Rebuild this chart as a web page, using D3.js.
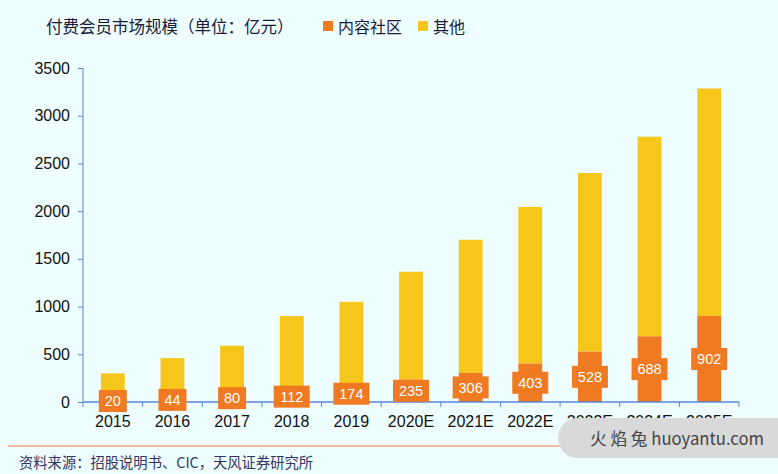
<!DOCTYPE html>
<html><head><meta charset="utf-8">
<script src="https://cdn.jsdelivr.net/npm/d3@7"></script>
<style>body{margin:0;background:#EEFEFE;}svg{display:block;}</style>
</head><body>
<svg id="c" width="778" height="474"></svg>
<script>
const categories = ["2015","2016","2017","2018","2019","2020E","2021E","2022E","2023E","2024E","2025E"];
const contentCommunity = [20,44,80,112,174,235,306,403,528,688,902];
const others = [280,416,510,788,876,1130,1394,1642,1872,2092,2383];
const yTicks = [0,500,1000,1500,2000,2500,3000,3500];
const seriesNames = ["内容社区","其他"];
const colors = ["#EF7A21","#F6C61A"];

const svg = d3.select("#c");
svg.append("rect").attr("width",778).attr("height",474).attr("fill","#EEFEFE");
const x = d3.scaleBand().domain(categories).range([83,739]).paddingInner(0.6).paddingOuter(0.3);
const xb = d3.scaleBand().domain(categories).range([83,739]);
const y = d3.scaleLinear().domain([0,3500]).range([402,68]);
const font = "'Liberation Sans', Arial, sans-serif";
const cjk = "'Noto Sans CJK SC', sans-serif";

// y axis
const ya = svg.append("g").attr("transform","translate(83,0)")
  .call(d3.axisLeft(y).tickValues(yTicks).tickSize(5).tickPadding(8).tickFormat(d3.format("d")));
ya.selectAll("path,line").attr("stroke","#5A86D8");
ya.select(".domain").attr("d","M0,68V402");
ya.selectAll("text").attr("font-family",font).attr("font-size",16).attr("fill","#111");

const data = categories.map((c,i)=>({c, a:contentCommunity[i], b:others[i]}));
// bars
svg.selectAll(".o").data(data).enter().append("rect")
  .attr("x",d=>x(d.c)).attr("width",x.bandwidth())
  .attr("y",d=>y(d.a+d.b)).attr("height",d=>y(d.a)-y(d.a+d.b)).attr("fill",colors[1]);
svg.selectAll(".c").data(data).enter().append("rect")
  .attr("x",d=>x(d.c)).attr("width",x.bandwidth())
  .attr("y",d=>y(d.a)).attr("height",d=>y(0)-y(d.a)).attr("fill",colors[0]);

// x axis
const xa = svg.append("g").attr("transform","translate(0,402)");
xa.append("line").attr("x1",83).attr("x2",739).attr("stroke","#5A86D8").attr("stroke-width",1.5);
xa.selectAll(".t").data(categories.concat(["end"])).enter().append("line")
  .attr("x1",(d,i)=>83+i*xb.bandwidth()).attr("x2",(d,i)=>83+i*xb.bandwidth())
  .attr("y1",0).attr("y2",5).attr("stroke","#5A86D8");
xa.selectAll(".l").data(categories).enter().append("text")
  .attr("x",d=>xb(d)+xb.bandwidth()/2).attr("y",25).attr("text-anchor","middle")
  .attr("font-family",font).attr("font-size",16).attr("fill","#111").text(d=>d);

// labels
const lg = svg.selectAll(".lb").data(data).enter().append("g")
  .attr("transform",d=>`translate(${x(d.c)+x.bandwidth()/2},${(y(0)+y(d.a))/2})`);
lg.append("rect").attr("x",d=>-(String(d.a).length*8+12)/2).attr("width",d=>String(d.a).length*8+12)
  .attr("y",-11).attr("height",22).attr("fill",colors[0]);
lg.append("text").attr("text-anchor","middle").attr("dy","0.36em")
  .attr("font-family",font).attr("font-size",14.5).attr("fill","#fff").text(d=>d.a);

// title & legend
svg.append("text").attr("x",46).attr("y",33).attr("font-family",cjk)
  .attr("font-size",16.5).attr("fill","#1a1a3a").text("付费会员市场规模（单位：亿元）");
const leg = [[323,seriesNames[0],colors[0]],[418,seriesNames[1],colors[1]]];
leg.forEach(([lx,t,col])=>{
  svg.append("rect").attr("x",lx).attr("y",21).attr("width",10).attr("height",10).attr("fill",col);
  svg.append("text").attr("x",lx+15).attr("y",33).attr("font-family",cjk)
    .attr("font-size",16).attr("fill","#1a1a3a").text(t);
});

// bottom rule & source
svg.append("line").attr("x1",8).attr("x2",770).attr("y1",446).attr("y2",446).attr("stroke","#F4A582").attr("stroke-width",1.5);
svg.append("text").attr("x",19).attr("y",468).attr("font-family",cjk)
  .attr("font-size",14.3).attr("fill","#333366").text("资料来源：招股说明书、CIC，天风证券研究所");

// watermark
svg.append("rect").attr("x",558).attr("y",418).attr("width",240).attr("height",40).attr("rx",20).attr("fill","#d9d9d9");
svg.append("text").attr("x",590).attr("y",445).attr("font-family",cjk)
  .attr("font-size",17).attr("fill","#444").attr("textLength",174).attr("lengthAdjust","spacingAndGlyphs")
  .text("火 焰 兔 huoyantu.com");
</script>
</body></html>
